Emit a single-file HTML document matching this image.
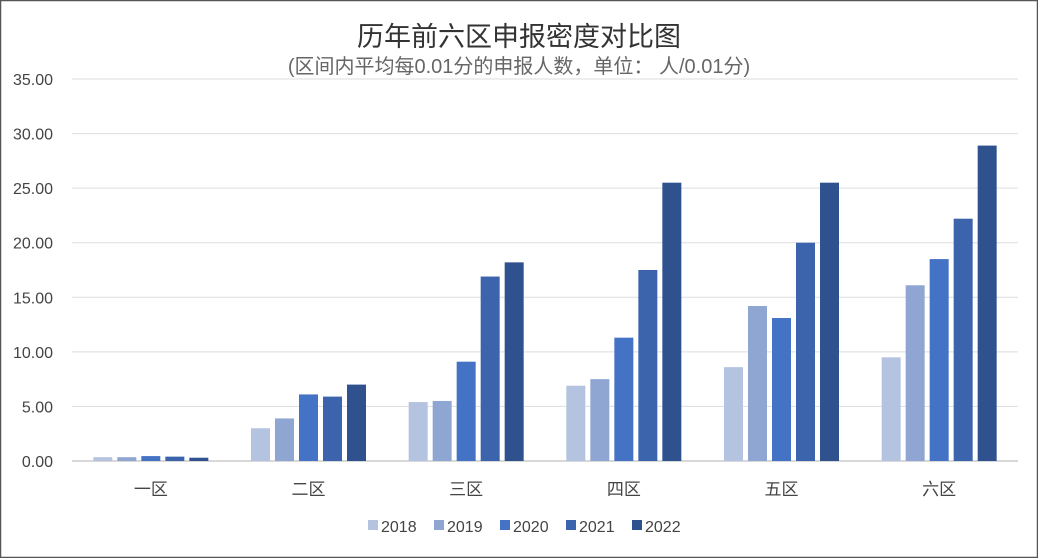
<!DOCTYPE html>
<html><head><meta charset="utf-8"><style>
body{margin:0;background:#fff}
svg{display:block;font-family:"Liberation Sans","Noto Sans CJK SC",sans-serif}
</style></head><body>
<svg id="c" width="1038" height="558" viewBox="0 0 1038 558">
<rect x="0.5" y="0.5" width="1037" height="557" fill="#fff" stroke="#555" stroke-width="1.5"/>
<text x="519" y="46" text-anchor="middle" font-size="27" fill="#333">历年前六区申报密度对比图</text>
<text x="519" y="73" text-anchor="middle" font-size="20" fill="#666">(区间内平均每0.01分的申报人数，单位： 人/0.01分)</text>
<g id="grid"></g><g id="bars"></g><g id="labels"></g><g id="legend"></g>
</svg>
<script>
const categories=["一区","二区","三区","四区","五区","六区"];
const years=["2018","2019","2020","2021","2022"];
const s2018=[0.35,3.0,5.4,6.9,8.6,9.5];
const s2019=[0.35,3.9,5.5,7.5,14.2,16.1];
const s2020=[0.45,6.1,9.1,11.3,13.1,18.5];
const s2021=[0.4,5.9,16.9,17.5,20.0,22.2];
const s2022=[0.3,7.0,18.2,25.5,25.5,28.9];
const ticks=[0,5,10,15,20,25,30,35];
const series=[s2018,s2019,s2020,s2021,s2022];
const colors=["#b4c3e0","#8fa6d3","#4472c4","#3b64ad","#2f528f"];
const NS="http://www.w3.org/2000/svg";
const x0=72,x1=1018,y0=461,yTop=79,maxV=35;
const y=v=>y0-(v/maxV)*(y0-yTop);
const band=(x1-x0)/categories.length;
const cx=i=>x0+band*(i+0.5);
function mk(t,a,p){const e=document.createElementNS(NS,t);for(const k in a)e.setAttribute(k,a[k]);p.appendChild(e);return e;}
const G=document.getElementById('grid'),B=document.getElementById('bars'),L=document.getElementById('labels'),LG=document.getElementById('legend');
ticks.forEach(t=>{
 const l=mk('line',{x1:x0,x2:x1,y1:y(t),y2:y(t),stroke:t===0?'#ccc':'#ddd','stroke-width':t===0?1.5:1},G);
 
 
 const tx=mk('text',{x:53,y:y(t)+6,'text-anchor':'end','font-size':16,fill:'#444'},G);
 tx.textContent=t.toFixed(2);
 
 
});
const bw=19,step=24;
categories.forEach((c,i)=>{
 series.forEach((s,j)=>{
  const bx=cx(i)+(j-2)*step-bw/2;
  const r=mk('rect',{x:bx,y:y(s[i]),width:bw,height:y0-y(s[i]),fill:colors[j]},B);
  
  
 });
 const t=mk('text',{x:cx(i),y:495,'text-anchor':'middle','font-size':17,fill:'#444'},L);
 t.textContent=c;
 
 
});
years.forEach((yr,j)=>{
 const lx=368+j*66;
 const r=mk('rect',{x:lx,y:520,width:10,height:10,fill:colors[j]},LG);
 
 
 const t=mk('text',{x:lx+13,y:532,'font-size':16,fill:'#444'},LG);
 t.textContent=yr;
 
 
});
</script>
</body></html>
